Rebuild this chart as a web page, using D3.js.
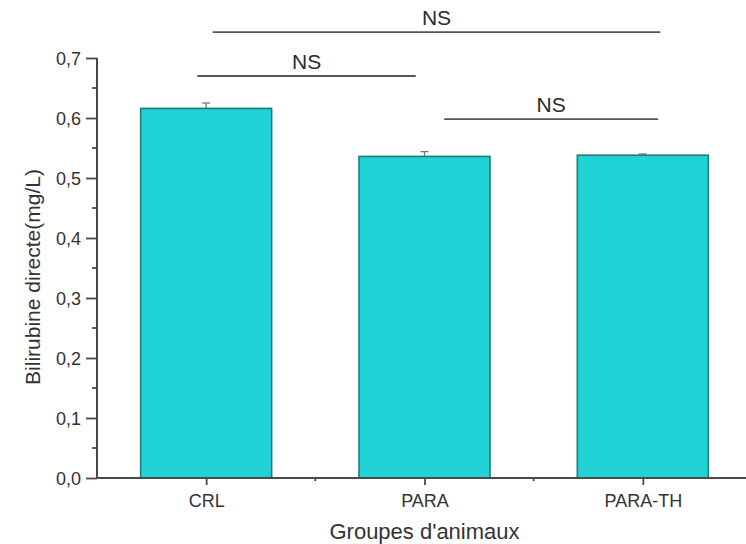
<!DOCTYPE html>
<html>
<head>
<meta charset="utf-8">
<script src="https://cdn.jsdelivr.net/npm/d3@7"></script>
<style>
  html, body { margin: 0; padding: 0; background: #fff; }
  svg { display: block; font-family: Arial, "Liberation Sans", Helvetica, sans-serif; }
</style>
</head>
<body>
<svg id="chart" width="746" height="544"></svg>
<script>
// Groups and measured direct bilirubin (mean and SEM, mg/L)
const groups = ["CRL", "PARA", "PARA-TH"];
const means = [0.616, 0.536, 0.538];
const errors = [0.009, 0.008, 0.002];

// Y ticks
const yMajorTicks = [0, 0.1, 0.2, 0.3, 0.4, 0.5, 0.6, 0.7];
const yMinorTicks = [0.05, 0.15, 0.25, 0.35, 0.45, 0.55, 0.65];

// Pairwise comparisons: extent in group-index units, level in mg/L
const compFrom = [1.03, 0.96, 2.09];
const compTo = [3.08, 1.96, 3.07];
const compLevel = [0.743, 0.670, 0.598];
const compLabel = ["NS", "NS", "NS"];

const svg = d3.select("#chart");
const margin = { left: 97, top: 58, bottom: 478 };

const x = d3.scaleLinear().domain([0.5, 3.5]).range([97, 752]);
const y = d3.scaleLinear().domain([0, 0.7]).range([478, 58]);
const barWidth = (x(2) - x(1)) * 0.6;

// Fine checker texture for the bar fill
const defs = svg.append("defs");
const pat = defs.append("pattern")
  .attr("id", "checker").attr("width", 4).attr("height", 4)
  .attr("patternUnits", "userSpaceOnUse");
pat.append("rect").attr("width", 4).attr("height", 4).attr("fill", "#22d6d8");
pat.append("rect").attr("width", 2).attr("height", 2).attr("fill", "#1fcfd4");
pat.append("rect").attr("x", 2).attr("y", 2).attr("width", 2).attr("height", 2).attr("fill", "#1fcfd4");

const axisColor = "#4a4a4a";
const textColor = "#333";

// Bars
const data = groups.map((g, i) => ({ g, i: i + 1, v: means[i], e: errors[i] }));

// Error bars (upper half visible above the bars)
const eb = svg.append("g").attr("stroke", "#777").attr("stroke-width", 1.3);
eb.selectAll("line.v").data(data).join("line")
  .attr("x1", d => x(d.i)).attr("x2", d => x(d.i))
  .attr("y1", d => y(d.v)).attr("y2", d => y(d.v + d.e));
eb.selectAll("line.c").data(data).join("line")
  .attr("x1", d => x(d.i) - 4).attr("x2", d => x(d.i) + 4)
  .attr("y1", d => y(d.v + d.e)).attr("y2", d => y(d.v + d.e));

svg.append("g").selectAll("rect").data(data).join("rect")
  .attr("x", d => x(d.i) - barWidth / 2)
  .attr("y", d => y(d.v))
  .attr("width", barWidth)
  .attr("height", d => y(0) - y(d.v))
  .attr("fill", "url(#checker)")
  .attr("stroke", "#237a7c")
  .attr("stroke-width", 1.6);

// Y axis
const yAxis = svg.append("g").attr("transform", `translate(${x(0.5)},0)`);
yAxis.call(d3.axisLeft(y).tickValues(yMajorTicks).tickSize(11).tickPadding(5)
  .tickFormat(d => d3.format(".1f")(d).replace(".", ",")));
yAxis.call(g => g.select(".domain").attr("d", `M0,${y(0)}V${y(0.7)}`));
yAxis.selectAll(".tick line").attr("stroke", axisColor).attr("stroke-width", 1.8);
yAxis.select(".domain").attr("stroke", axisColor).attr("stroke-width", 2);
yAxis.selectAll(".tick text").attr("font-size", 18).attr("fill", textColor)
  .attr("font-family", "Arial, 'Liberation Sans', sans-serif").attr("dy", "0.36em");
svg.append("g").attr("transform", `translate(${x(0.5)},0)`)
  .selectAll("line").data(yMinorTicks).join("line")
  .attr("x1", -5).attr("x2", 0)
  .attr("y1", d => y(d)).attr("y2", d => y(d))
  .attr("stroke", axisColor).attr("stroke-width", 1.8);

// X axis
const xAxis = svg.append("g").attr("transform", `translate(0,${y(0)})`);
xAxis.call(d3.axisBottom(x).tickValues([1, 2, 3]).tickSize(7).tickPadding(9)
  .tickFormat(d => groups[d - 1]));
xAxis.select(".domain").attr("d", `M${x(0.5)},0H760`)
  .attr("stroke", axisColor).attr("stroke-width", 2);
xAxis.selectAll(".tick line").attr("stroke", axisColor).attr("stroke-width", 1.8);
xAxis.selectAll(".tick text").attr("font-size", 18).attr("fill", textColor)
  .attr("font-family", "Arial, 'Liberation Sans', sans-serif");
xAxis.selectAll("line.minor").data([1.5, 2.5]).join("line").attr("class", "minor")
  .attr("x1", d => x(d)).attr("x2", d => x(d)).attr("y1", 0).attr("y2", 3)
  .attr("stroke", axisColor).attr("stroke-width", 1.8);

// Axis titles
svg.append("text")
  .attr("x", x(2)).attr("y", 539)
  .attr("text-anchor", "middle").attr("font-size", 22).attr("fill", textColor)
  .text("Groupes d'animaux");
svg.append("text")
  .attr("transform", `translate(40,${(y(0) + y(0.7)) / 2 + 9}) rotate(-90)`)
  .attr("text-anchor", "middle").attr("font-size", 21).attr("fill", textColor)
  .text("Bilirubine directe(mg/L)");

// Comparison lines and labels
const comps = compFrom.map((f, i) => ({ f, t: compTo[i], lv: compLevel[i], lab: compLabel[i] }));
const cg = svg.append("g");
cg.selectAll("line").data(comps).join("line")
  .attr("x1", d => x(d.f)).attr("x2", d => x(d.t))
  .attr("y1", d => y(d.lv)).attr("y2", d => y(d.lv))
  .attr("stroke", "#555").attr("stroke-width", 1.8);
cg.selectAll("text").data(comps).join("text")
  .attr("x", d => (x(d.f) + x(d.t)) / 2).attr("y", d => y(d.lv) - 7)
  .attr("text-anchor", "middle").attr("font-size", 21).attr("fill", "#2a2a2a")
  .text(d => d.lab);
</script>
</body>
</html>
